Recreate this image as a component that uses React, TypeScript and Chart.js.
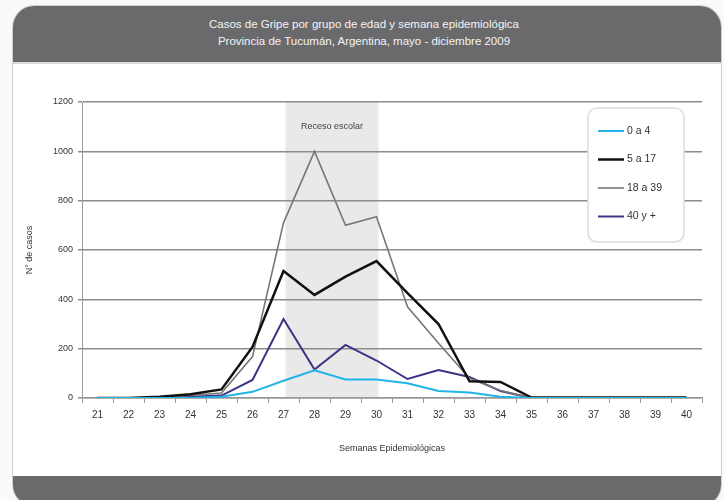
import React, { useEffect, useRef } from "react";
import { Chart, registerables } from "chart.js";

Chart.register(...registerables);

const weeks = ["21", "22", "23", "24", "25", "26", "27", "28", "29", "30", "31", "32", "33", "34", "35", "36", "37", "38", "39", "40"];
const s0a4 = [0, 0, 0, 0, 5, 25, 70, 112, 75, 75, 60, 28, 22, 5, 0, 0, 0, 0, 0, 0];
const s5a17 = [0, 0, 5, 15, 35, 207, 515, 418, 492, 555, 425, 300, 68, 65, 2, 2, 2, 2, 2, 2];
const s18a39 = [0, 0, 2, 10, 20, 168, 710, 1000, 700, 735, 370, 222, 80, 30, 0, 0, 0, 0, 0, 0];
const s40 = [0, 0, 0, 5, 10, 73, 320, 115, 215, 152, 77, 113, 85, 28, 0, 0, 0, 0, 0, 0];
const seriesLabels = ["0 a 4", "5 a 17", "18 a 39", "40 y +"];
const recesoStart = "27";
const recesoEnd = "30";
const recesoLabel = "Receso escolar";
const titleLines = [
  "Casos de Gripe por grupo de edad y semana epidemiológica",
  "Provincia de Tucumán, Argentina, mayo - diciembre 2009",
];

const FONT = "'Liberation Sans', Arial, sans-serif";

const bandPlugin = {
  id: "band",
  beforeDraw(chart: any) {
    const { ctx, chartArea } = chart;
    const xs = chart.scales.x;
    const x1 = xs.getPixelForValue(weeks.indexOf(recesoStart)) + 2;
    const x2 = xs.getPixelForValue(weeks.indexOf(recesoEnd)) + 2;
    ctx.save();
    ctx.fillStyle = "#e9e9e9";
    ctx.fillRect(x1, chartArea.top, x2 - x1, chartArea.bottom - chartArea.top);
    ctx.fillStyle = "#444";
    ctx.font = "9px " + FONT;
    ctx.textAlign = "center";
    ctx.textBaseline = "middle";
    ctx.fillText(recesoLabel, (x1 + x2) / 2, chartArea.top + 25);
    ctx.restore();
  },
};

const legendPlugin = {
  id: "boxLegend",
  afterDraw(chart: any) {
    const { ctx, chartArea } = chart;
    const bx = chartArea.right - 114;
    const by = chartArea.top + 6;
    const bw = 96;
    const bh = 134;
    ctx.save();
    ctx.fillStyle = "#ffffff";
    ctx.strokeStyle = "#dcdcdc";
    ctx.lineWidth = 1.5;
    ctx.beginPath();
    ctx.roundRect(bx, by, bw, bh, 9);
    ctx.fill();
    ctx.stroke();
    ctx.font = "10.5px " + FONT;
    ctx.textBaseline = "middle";
    ctx.textAlign = "left";
    chart.data.datasets.forEach((ds: any, i: number) => {
      const y = by + 23 + i * 28.5;
      ctx.strokeStyle = ds.borderColor;
      ctx.lineWidth = ds.borderWidth;
      ctx.beginPath();
      ctx.moveTo(bx + 10, y);
      ctx.lineTo(bx + 36, y);
      ctx.stroke();
      ctx.fillStyle = "#333";
      ctx.fillText(ds.label, bx + 39, y);
    });
    ctx.restore();
  },
};

export default function App() {
  const ref = useRef<HTMLCanvasElement>(null);
  useEffect(() => {
    document.body.style.margin = "0";
    const chart = new Chart(ref.current!, {
      type: "line",
      data: {
        labels: weeks,
        datasets: [
          { label: seriesLabels[0], data: s0a4, borderColor: "#22b4e6", borderWidth: 2, pointRadius: 0, tension: 0 },
          { label: seriesLabels[1], data: s5a17, borderColor: "#111111", borderWidth: 2.5, pointRadius: 0, tension: 0 },
          { label: seriesLabels[2], data: s18a39, borderColor: "#777777", borderWidth: 1.6, pointRadius: 0, tension: 0 },
          { label: seriesLabels[3], data: s40, borderColor: "#3b3486", borderWidth: 2, pointRadius: 0, tension: 0 },
        ],
      },
      options: {
        animation: false,
        responsive: false,
        maintainAspectRatio: false,
        layout: { padding: { left: 20, right: 22, top: 102, bottom: 42 } },
        plugins: { legend: { display: false }, tooltip: { enabled: false }, title: { display: false } },
        scales: {
          x: {
            offset: true,
            afterFit: (a: any) => { a.height = 60; },
            grid: { display: true, drawOnChartArea: false, drawTicks: true, tickLength: 5, color: "#999", offset: true },
            border: { display: true, color: "#999", width: 1.5 },
            ticks: { color: "#333", font: { size: 10, family: FONT }, padding: 6, maxRotation: 0, autoSkip: false },
            title: { display: true, text: "Semanas Epidemiológicas", color: "#333", font: { size: 9, family: FONT }, padding: { top: 4, bottom: 4 } },
          },
          y: {
            min: 0,
            max: 1200,
            afterFit: (a: any) => { a.width = 62; },
            ticks: { stepSize: 200, color: "#333", font: { size: 9, family: FONT }, padding: 5, callback: (v: any) => String(v) },
            grid: { color: "#8c8c8c", lineWidth: 1.5, tickLength: 4, drawTicks: true },
            border: { display: true, color: "#999", width: 1 },
            title: { display: true, text: "N° de casos", color: "#333", font: { size: 9, family: FONT }, padding: { top: 4, bottom: 4 } },
          },
        },
      },
      plugins: [bandPlugin, legendPlugin],
    });
    return () => chart.destroy();
  }, []);

  return (
    <div style={{ position: "fixed", left: 0, top: 0, width: 724, height: 500, background: "#fafafa", overflow: "hidden" }}>
      <div style={{ position: "absolute", left: 12, top: 5, width: 708, height: 500, background: "#ffffff", border: "1px solid #cfcfcf", borderRadius: 22, overflow: "hidden" }}>
        <div style={{ position: "absolute", left: 0, top: 0, right: 0, height: 58, background: "#6a6a6d", borderBottom: "2px solid #d8d8d8", color: "#f4f4f4", fontFamily: FONT, fontSize: 11.5, textAlign: "center", paddingTop: 10, boxSizing: "border-box", lineHeight: "17px" }}>
          <div style={{ marginLeft: -6 }}>{titleLines[0]}</div>
          <div style={{ marginLeft: -6 }}>{titleLines[1]}</div>
        </div>
        <div style={{ position: "absolute", left: 0, top: 470, right: 0, height: 40, background: "#6a6a6d" }} />
      </div>
      <canvas ref={ref} width={724} height={500} style={{ position: "absolute", left: 0, top: 0, width: 724, height: 500 }} />
    </div>
  );
}
